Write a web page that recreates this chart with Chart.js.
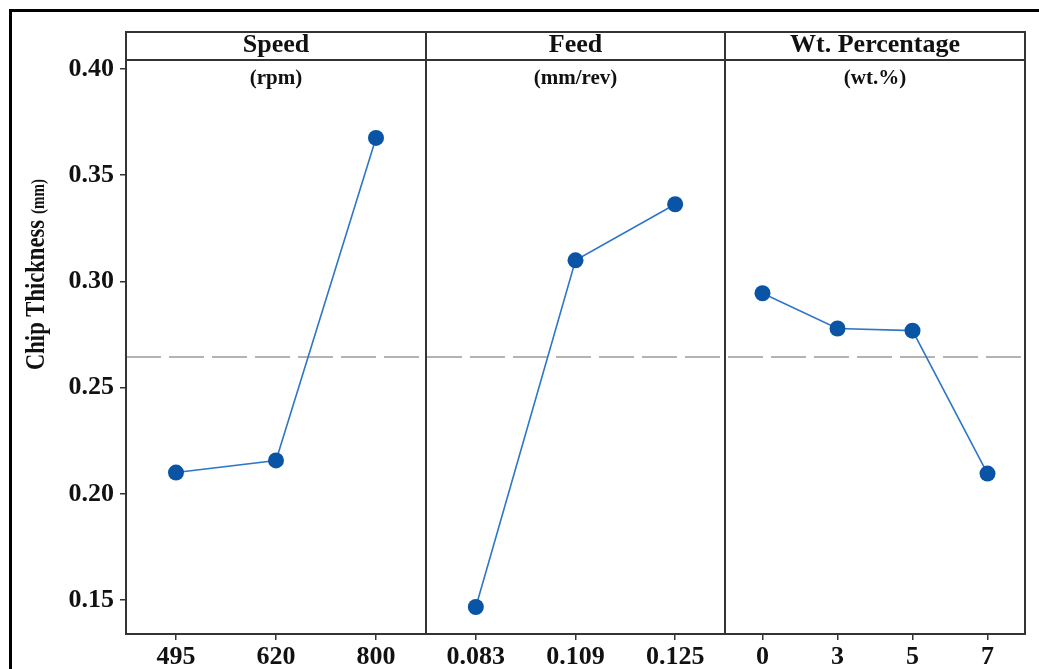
<!DOCTYPE html>
<html>
<head>
<meta charset="utf-8">
<title>Main Effects Plot for Chip Thickness</title>
<script src="https://cdn.jsdelivr.net/npm/chart.js@4.4.1/dist/chart.umd.min.js"></script>
<style>
  html, body { margin: 0; padding: 0; background: #fff; width: 1039px; height: 669px; overflow: hidden; }
  #frame { position: absolute; left: 9px; top: 9px; width: 1100px; height: 700px;
           border-left: 3px solid #000; border-top: 3px solid #000; }
  .panel { position: absolute; top: 0; height: 669px; }
  .panel canvas { display: block; }
</style>
</head>
<body>
<div id="frame"></div>
<div class="panel" style="left:10px;width:416px"><canvas id="speedChart" width="416" height="669"></canvas></div>
<div class="panel" style="left:426px;width:299px"><canvas id="feedChart" width="299" height="669"></canvas></div>
<div class="panel" style="left:725px;width:302px"><canvas id="wtChart" width="302" height="669"></canvas></div>

<script>
// Factor levels and mean chip thickness (mm) at each level
const speedLabels = ['495', '620', '800'];
const speedMeans  = [0.2100, 0.2157, 0.3675];

const feedLabels  = ['0.083', '0.109', '0.125'];
const feedMeans   = [0.1467, 0.3099, 0.3363];

const wtLabels    = ['0', '3', '5', '7'];
const wtMeans     = [0.2944, 0.2778, 0.2768, 0.2095];

// Shared response axis
const yTicks = [0.15, 0.20, 0.25, 0.30, 0.35, 0.40];
const yMin = 0.134;
const yMax = 0.4042;

// Grand mean: each factor's level means average to it
const avg = a => a.reduce((s, v) => s + v, 0) / a.length;
const grandMean = avg([avg(speedMeans), avg(feedMeans), avg(wtMeans)]);

const FONT = '"Liberation Serif", "Times New Roman", serif';
const STRIP_TOP = 32;
const PLOT_LEFT_ABS = 126;

// Draws text of a given font squeezed to a target advance width
function fitText(ctx, text, font, x, y, targetWidth) {
  ctx.font = font;
  const w = ctx.measureText(text).width;
  const sx = targetWidth / w;
  ctx.save();
  ctx.translate(x, y);
  ctx.scale(sx, 1);
  ctx.fillText(text, 0, 0);
  ctx.restore();
}

function panelPlugin(cfg) {
  return {
    id: 'panelDecor',
    beforeDatasetsDraw(chart) {
      // dashed reference line at the grand mean
      const { ctx, chartArea: a, scales: { y } } = chart;
      const py = y.getPixelForValue(grandMean);
      ctx.save();
      ctx.strokeStyle = '#b3b3b3';
      ctx.lineWidth = 2;
      ctx.setLineDash([35, 8]);
      ctx.lineDashOffset = cfg.canvasLeft + a.left - PLOT_LEFT_ABS;
      ctx.beginPath();
      ctx.moveTo(a.left, py);
      ctx.lineTo(a.right, py);
      ctx.stroke();
      ctx.restore();
    },
    afterDraw(chart) {
      const { ctx, chartArea: a } = chart;
      ctx.save();
      // panel frame with header strip
      ctx.strokeStyle = '#333';
      ctx.lineWidth = 2;
      ctx.strokeRect(a.left, STRIP_TOP, a.right - a.left, a.bottom - STRIP_TOP);
      ctx.beginPath();
      ctx.moveTo(a.left, a.top);
      ctx.lineTo(a.right, a.top);
      ctx.stroke();
      // header and unit text
      const cx = (a.left + a.right) / 2;
      ctx.fillStyle = '#111';
      ctx.textAlign = 'center';
      ctx.textBaseline = 'alphabetic';
      ctx.font = 'bold 26px ' + FONT;
      ctx.fillText(cfg.title, cx, 52);
      ctx.font = 'bold 21px ' + FONT;
      ctx.fillText(cfg.unit, cx, 84);
      // response axis title (first panel only)
      if (cfg.yTitle) {
        ctx.translate(44 - cfg.canvasLeft, 0);
        ctx.rotate(-Math.PI / 2);
        ctx.textAlign = 'left';
        // rotated frame: x runs upward (x = -pageY), y runs to the right
        fitText(ctx, 'Chip Thickness', 'bold 27px ' + FONT, -370, 0, 150);
        fitText(ctx, '(mm)', 'bold 18px ' + FONT, -214, 0, 35);
      }
      ctx.restore();
    }
  };
}

function makePanel(canvasId, canvasLeft, labels, values, title, unit, showY, padRight) {
  return new Chart(document.getElementById(canvasId), {
    type: 'line',
    data: {
      labels: labels,
      datasets: [{
        data: values,
        borderColor: '#2e76c6',
        borderWidth: 1.6,
        pointRadius: 8,
        pointHoverRadius: 8,
        pointBackgroundColor: '#0a54a6',
        pointBorderColor: '#0a54a6',
        pointBorderWidth: 0,
        tension: 0,
        clip: false
      }]
    },
    options: {
      responsive: false,
      animation: false,
      devicePixelRatio: 1,
      layout: { autoPadding: false, padding: { top: 60, left: 0, right: padRight, bottom: 0 } },
      plugins: { legend: { display: false }, tooltip: { enabled: false }, title: { display: false } },
      scales: {
        x: {
          type: 'category',
          offset: true,
          grid: { display: true, drawOnChartArea: false, drawTicks: true, tickLength: 6,
                  color: '#333', lineWidth: 1.5, offset: false },
          border: { display: false },
          ticks: { color: '#111', font: { family: FONT, size: 26, weight: 'bold' },
                   padding: 2, maxRotation: 0, autoSkip: false },
          afterFit(scale) { scale.height = 35; }
        },
        y: {
          display: showY,
          min: yMin,
          max: yMax,
          afterBuildTicks(scale) { scale.ticks = yTicks.map(v => ({ value: v })); },
          grid: { display: true, drawOnChartArea: false, drawTicks: true, tickLength: 6,
                  color: '#333', lineWidth: 1.5 },
          border: { display: false },
          ticks: { color: '#111', font: { family: FONT, size: 26, weight: 'bold' },
                   padding: 6, callback: v => Number(v).toFixed(2) },
          afterFit(scale) { if (showY) scale.width = 116; }
        }
      }
    },
    plugins: [panelPlugin({ canvasLeft, title, unit, yTitle: showY })]
  });
}

makePanel('speedChart', 10, speedLabels, speedMeans, 'Speed', '(rpm)', true, 0);
makePanel('feedChart', 426, feedLabels, feedMeans, 'Feed', '(mm/rev)', false, 0);
makePanel('wtChart', 725, wtLabels, wtMeans, 'Wt. Percentage', '(wt.%)', false, 2);
</script>
</body>
</html>
